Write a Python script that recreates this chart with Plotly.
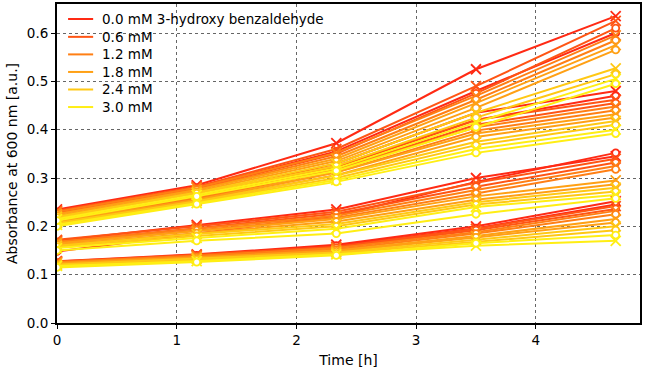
import plotly.graph_objects as go

# ---- data ----
time_h = [0.0, 1.167, 2.333, 3.5, 4.667]
conc_labels = ["0.0 mM 3-hydroxy benzaldehyde", "0.6 mM", "1.2 mM", "1.8 mM", "2.4 mM", "3.0 mM"]
colors = ["#ff2a14", "#ff5514", "#ff7f14", "#ffa014", "#ffc814", "#ffee14"]
x_ticks = [0, 1, 2, 3, 4]
y_ticks = [0.0, 0.1, 0.2, 0.3, 0.4, 0.5, 0.6]

# Each group: per concentration, replicate marked 'x' and replicate marked 'o'
groupA_x = [[0.235, 0.285, 0.372, 0.525, 0.635],
            [0.232, 0.282, 0.360, 0.490, 0.625],
            [0.230, 0.280, 0.352, 0.470, 0.595],
            [0.225, 0.275, 0.340, 0.455, 0.575],
            [0.220, 0.270, 0.330, 0.435, 0.527],
            [0.215, 0.265, 0.320, 0.415, 0.505]]
groupA_o = [[0.230, 0.280, 0.355, 0.480, 0.600],
            [0.228, 0.278, 0.350, 0.475, 0.610],
            [0.226, 0.276, 0.345, 0.462, 0.585],
            [0.222, 0.272, 0.335, 0.445, 0.565],
            [0.218, 0.268, 0.325, 0.425, 0.515],
            [0.212, 0.262, 0.315, 0.405, 0.495]]
groupB_x = [[0.215, 0.262, 0.330, 0.435, 0.480],
            [0.214, 0.260, 0.325, 0.420, 0.462],
            [0.212, 0.258, 0.318, 0.405, 0.448],
            [0.210, 0.255, 0.312, 0.392, 0.432],
            [0.207, 0.252, 0.305, 0.375, 0.418],
            [0.203, 0.248, 0.296, 0.360, 0.400]]
groupB_o = [[0.212, 0.258, 0.322, 0.420, 0.470],
            [0.210, 0.256, 0.318, 0.410, 0.455],
            [0.208, 0.254, 0.312, 0.398, 0.440],
            [0.206, 0.252, 0.306, 0.385, 0.425],
            [0.204, 0.250, 0.300, 0.368, 0.410],
            [0.200, 0.246, 0.292, 0.352, 0.392]]
groupC_x = [[0.170, 0.203, 0.235, 0.300, 0.345],
            [0.172, 0.200, 0.230, 0.290, 0.340],
            [0.168, 0.195, 0.222, 0.275, 0.325],
            [0.165, 0.190, 0.215, 0.262, 0.295],
            [0.160, 0.184, 0.205, 0.250, 0.280],
            [0.155, 0.176, 0.195, 0.240, 0.265]]
groupC_o = [[0.148, 0.185, 0.222, 0.292, 0.352],
            [0.168, 0.196, 0.226, 0.282, 0.332],
            [0.165, 0.192, 0.218, 0.268, 0.318],
            [0.162, 0.186, 0.210, 0.255, 0.287],
            [0.158, 0.180, 0.200, 0.245, 0.272],
            [0.150, 0.170, 0.185, 0.225, 0.258]]
groupD_x = [[0.128, 0.142, 0.162, 0.200, 0.252],
            [0.127, 0.141, 0.158, 0.195, 0.242],
            [0.126, 0.139, 0.155, 0.188, 0.232],
            [0.124, 0.136, 0.150, 0.180, 0.215],
            [0.121, 0.133, 0.146, 0.172, 0.200],
            [0.118, 0.128, 0.142, 0.160, 0.170]]
groupD_o = [[0.125, 0.140, 0.160, 0.196, 0.245],
            [0.124, 0.138, 0.156, 0.192, 0.236],
            [0.122, 0.136, 0.152, 0.185, 0.225],
            [0.120, 0.133, 0.148, 0.177, 0.208],
            [0.118, 0.130, 0.144, 0.168, 0.192],
            [0.115, 0.126, 0.140, 0.165, 0.182]]

groups = [(groupD_x, groupD_o), (groupC_x, groupC_o), (groupB_x, groupB_o), (groupA_x, groupA_o)]

fig = go.Figure()

for gx, go_ in groups:
    for i in range(len(conc_labels)):
        c = colors[i]
        fig.add_trace(go.Scatter(
            x=time_h, y=gx[i], mode="lines+markers", showlegend=False, name=conc_labels[i],
            line=dict(color=c, width=2),
            marker=dict(symbol="x-thin-open", size=10, color=c, line=dict(color=c, width=1.8)),
            hoverinfo="skip"))
        fig.add_trace(go.Scatter(
            x=time_h, y=go_[i], mode="lines+markers", showlegend=False, name=conc_labels[i],
            line=dict(color=c, width=2),
            marker=dict(symbol="circle", size=7, color="white", line=dict(color=c, width=1.8)),
            hoverinfo="skip"))

# Legend drawn as line samples + labels (compact, matplotlib-like spacing)
leg_y = [0.953, 0.897, 0.842, 0.787, 0.732, 0.677]
for i, lab in enumerate(conc_labels):
    fig.add_shape(type="line", xref="paper", yref="paper",
                  x0=0.019, x1=0.062, y0=leg_y[i], y1=leg_y[i],
                  line=dict(color=colors[i], width=2))
    fig.add_annotation(xref="paper", yref="paper", x=0.074, y=leg_y[i],
                       text=lab, showarrow=False, xanchor="left", yanchor="middle",
                       font=dict(size=13.5, color="black"))

axis_common = dict(
    showline=True, linecolor="black", linewidth=2, mirror=True,
    ticks="outside", ticklen=4, tickwidth=1, tickcolor="black",
    showgrid=True, gridcolor="#666666", griddash="dot", gridwidth=1,
    zeroline=False, tickfont=dict(size=13.5, color="black"),
)

fig.update_layout(
    width=646, height=371,
    margin=dict(l=57, r=6, t=2, b=48),
    paper_bgcolor="white", plot_bgcolor="white",
    font=dict(family="DejaVu Sans", size=13, color="black"),
    xaxis=dict(range=[0, 4.87], tickvals=x_ticks,
               title=dict(text="Time [h]", font=dict(size=14), standoff=8), **axis_common),
    yaxis=dict(range=[0, 0.66], tickvals=y_ticks, tickformat=".1f",
               title=dict(text="Absorbance at 600 nm [a.u.]", font=dict(size=14), standoff=6),
               **axis_common),
    showlegend=False,
)

fig.write_html("out.html", config={"displayModeBar": False},
               post_script="document.body.style.margin='0';document.body.style.padding='0';")
